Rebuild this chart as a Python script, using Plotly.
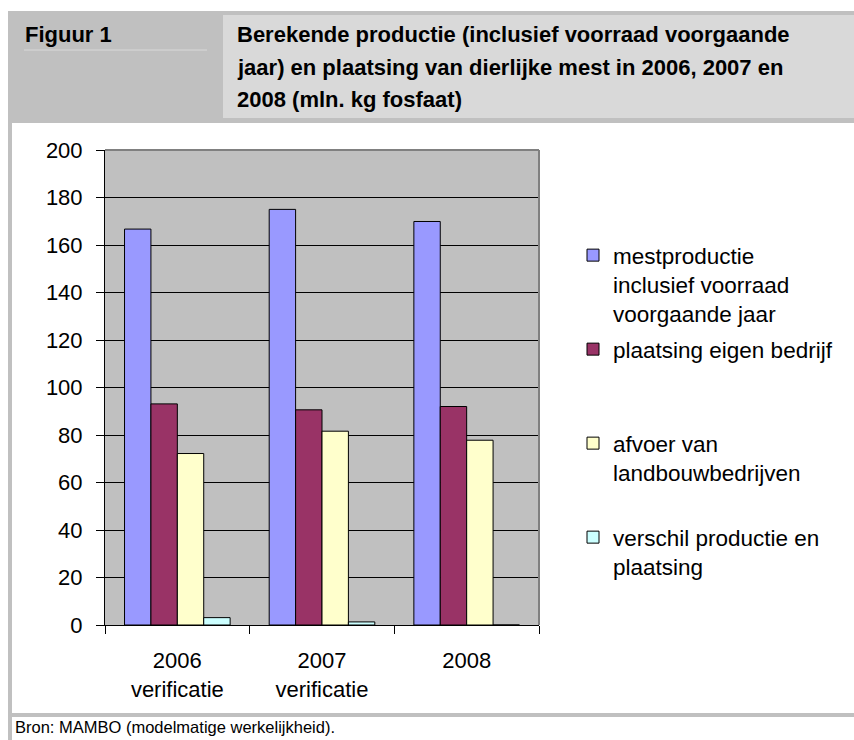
import plotly.graph_objects as go

# ---- data ----
categories = ["2006<br>verificatie", "2007<br>verificatie", "2008"]
series_names = [
    "mestproductie<br>inclusief voorraad<br>voorgaande jaar",
    "plaatsing eigen bedrijf",
    "afvoer van<br>landbouwbedrijven",
    "verschil productie en<br>plaatsing",
]
mestproductie = [166.7, 175.0, 169.9]
plaatsing_eigen = [93.1, 90.6, 92.0]
afvoer = [72.2, 81.6, 77.8]
verschil = [3.1, 1.3, 0]
series_values = [mestproductie, plaatsing_eigen, afvoer, verschil]
series_colors = ["#9999ff", "#993366", "#ffffcc", "#ccffff"]
y_ticks = [0, 20, 40, 60, 80, 100, 120, 140, 160, 180, 200]

title_left = "Figuur 1"
title_lines = [
    "Berekende productie (inclusief voorraad voorgaande",
    "jaar) en plaatsing van dierlijke mest in 2006, 2007 en",
    "2008 (mln. kg fosfaat)",
]
source_text = "Bron: MAMBO (modelmatige werkelijkheid)."

# ---- layout geometry (pixels) ----
W, H = 854, 740
L, R, T, B = 105, 539, 150, 625

def px(x):
    return (x - L) / (R - L)

def py(y):
    return (B - y) / (B - T)

FONT = "Liberation Sans, Arial, sans-serif"

fig = go.Figure()
legend_ids = ["legend", "legend2", "legend3", "legend4"]
for name, vals, col, lg in zip(series_names, series_values, series_colors, legend_ids):
    fig.add_trace(go.Bar(
        x=categories, y=vals, name=name, legend=lg,
        marker=dict(color=col, line=dict(color="black", width=1)),
        hoverinfo="y",
    ))

legend_tops = [256, 350, 444, 538]
leg_common = dict(
    x=px(573), xanchor="left", yanchor="top",
    bgcolor="rgba(0,0,0,0)", borderwidth=0,
    font=dict(family=FONT, size=22.5, color="black"),
    valign="top", itemclick=False, itemdoubleclick=False,
)
legends = {}
for lg, top in zip(legend_ids, legend_tops):
    legends[lg] = dict(leg_common, y=py(top - 22))

shapes = [
    # header bands
    dict(type="rect", xref="paper", yref="paper", x0=px(8), x1=px(854), y0=py(11), y1=py(123),
         fillcolor="#c0c0c0", line=dict(width=0), layer="below"),
    dict(type="rect", xref="paper", yref="paper", x0=px(223), x1=px(854), y0=py(15), y1=py(118),
         fillcolor="#d9d9d9", line=dict(width=0), layer="below"),
    dict(type="line", xref="paper", yref="paper", x0=px(24), x1=px(207), y0=py(50), y1=py(50),
         line=dict(color="#d9d9d9", width=1)),
    # frame left and bottom
    dict(type="rect", xref="paper", yref="paper", x0=px(8), x1=px(12), y0=py(123), y1=py(740),
         fillcolor="#c0c0c0", line=dict(width=0), layer="below"),
    dict(type="rect", xref="paper", yref="paper", x0=px(12), x1=px(854), y0=py(713), y1=py(717),
         fillcolor="#c0c0c0", line=dict(width=0), layer="below"),
    # plot area border top/right
    dict(type="line", xref="paper", yref="paper", x0=0, x1=1, y0=1, y1=1,
         line=dict(color="#808080", width=2)),
    dict(type="line", xref="paper", yref="paper", x0=1, x1=1, y0=0, y1=1,
         line=dict(color="#808080", width=2)),
]

annotations = [
    dict(text="<b>" + title_left + "</b>", xref="paper", yref="paper", x=px(23), y=py(35),
         xanchor="left", yanchor="middle", showarrow=False, align="left",
         font=dict(family=FONT, size=22, color="black")),
]
for line, yc in zip(title_lines, [35, 67, 100]):
    annotations.append(dict(
        text="<b>" + line + "</b>", xref="paper", yref="paper", x=px(235), y=py(yc),
        xanchor="left", yanchor="middle", showarrow=False, align="left",
        font=dict(family=FONT, size=22, color="black")))
annotations.append(dict(
    text=source_text, xref="paper", yref="paper", x=px(13), y=py(727),
    xanchor="left", yanchor="middle", showarrow=False, align="left",
    font=dict(family=FONT, size=16.5, color="black")))

fig.update_layout(
    width=W, height=H,
    margin=dict(l=L, r=W - R, t=T, b=H - B, autoexpand=False),
    paper_bgcolor="white", plot_bgcolor="#c0c0c0",
    barmode="group", bargap=0.27, bargroupgap=0,
    showlegend=True,
    shapes=shapes, annotations=annotations,
    font=dict(family=FONT, size=22, color="black"),
    xaxis=dict(
        type="category", tickson="boundaries", ticks="outside", ticklen=8,
        tickcolor="black", tickwidth=1, showline=True, linecolor="black", linewidth=1,
        showgrid=False, tickfont=dict(family=FONT, size=22, color="black"),
        ticklabelstandoff=16, fixedrange=True,
    ),
    yaxis=dict(
        range=[0, 200], tickvals=y_ticks, ticks="outside", ticklen=8,
        tickcolor="black", tickwidth=1, showline=True, linecolor="black", linewidth=1,
        showgrid=True, gridcolor="black", gridwidth=1, zeroline=False,
        tickfont=dict(family=FONT, size=22, color="black"),
        ticklabelstandoff=9, fixedrange=True,
    ),
    **legends,
)

fig.write_html(
    "out.html",
    config={"displayModeBar": False},
    post_script="document.body.style.margin='0';document.body.style.padding='0';",
)
